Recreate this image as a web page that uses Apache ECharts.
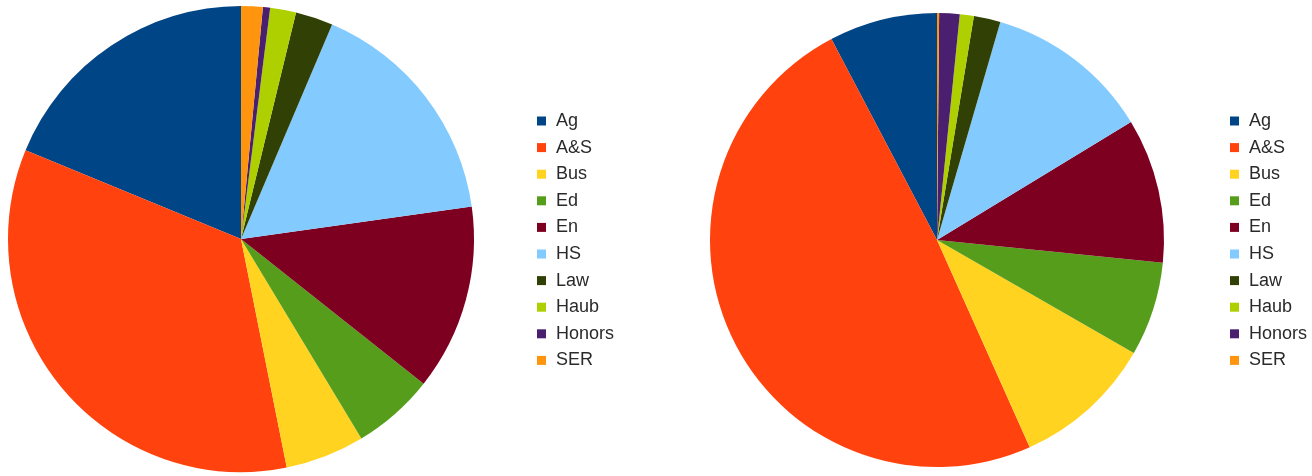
<!DOCTYPE html>
<html>
<head>
<meta charset="utf-8">
<script src="https://cdn.jsdelivr.net/npm/echarts@6/dist/echarts.min.js"></script>
<style>
html,body{margin:0;padding:0;background:#fff;}
#chart{width:1312px;height:476px;}
</style>
</head>
<body>
<div id="chart"></div>
<script>
const categories = ['Ag', 'A&S', 'Bus', 'Ed', 'En', 'HS', 'Law', 'Haub', 'Honors', 'SER'];
const leftValues = [18.8, 34.4, 5.5, 5.7, 12.9, 16.4, 2.6, 1.8, 0.5, 1.5];
const rightValues = [7.7, 49.0, 10.0, 6.7, 10.3, 11.8, 1.9, 1.0, 1.45, 0.15];
const colors = ['#004586', '#ff420e', '#ffd320', '#579d1c', '#7e0021', '#83caff', '#314004', '#aecf00', '#4b1f6f', '#ff950e'];

function toData(values) {
  return categories.map((c, i) => ({ name: c, value: values[i], itemStyle: { color: colors[i] } }));
}

const legendBase = {
  orient: 'vertical',
  top: 107,
  padding: 5,
  icon: 'rect',
  itemWidth: 9,
  itemHeight: 9,
  itemGap: 8.6,
  selectedMode: false,
  data: categories,
  textStyle: {
    fontFamily: 'Liberation Sans',
    fontSize: 18,
    lineHeight: 18,
    color: '#2a2a2a',
    padding: [0, 0, 0, 5]
  }
};

const chart = echarts.init(document.getElementById('chart'), null, { renderer: 'canvas' });
chart.setOption({
  animation: false,
  color: colors,
  legend: [
    Object.assign({}, legendBase, { left: 532 }),
    Object.assign({}, legendBase, { left: 1225 })
  ],
  series: [
    {
      type: 'pie',
      center: [241, 239],
      radius: 233,
      startAngle: 90,
      clockwise: false,
      label: { show: false },
      labelLine: { show: false },
      emphasis: { disabled: true },
      itemStyle: { borderWidth: 0 },
      data: toData(leftValues)
    },
    {
      type: 'pie',
      center: [937, 240],
      radius: 227,
      startAngle: 90,
      clockwise: false,
      label: { show: false },
      labelLine: { show: false },
      emphasis: { disabled: true },
      itemStyle: { borderWidth: 0 },
      data: toData(rightValues)
    }
  ]
});
</script>
</body>
</html>
